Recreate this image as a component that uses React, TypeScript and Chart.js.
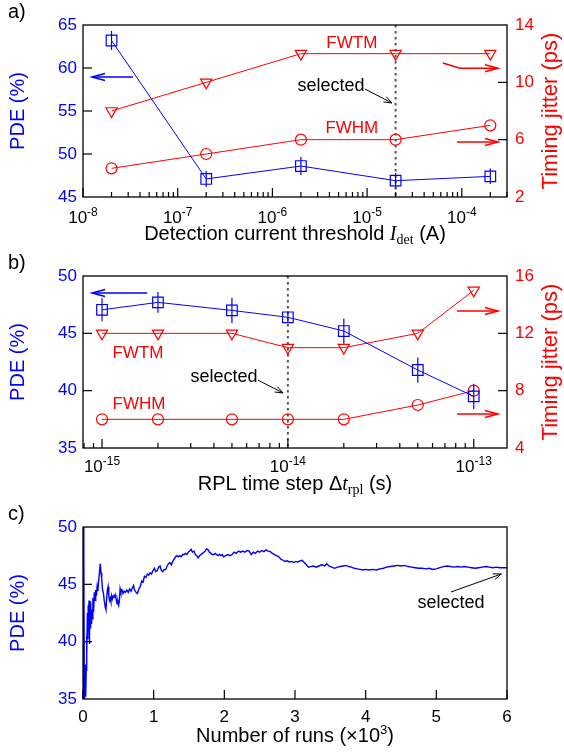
import React, { useEffect, useRef } from "react";
import { Chart, registerables } from "chart.js";
Chart.register(...registerables);

const SANS = '"Liberation Sans", Arial, Helvetica, sans-serif';
const SERIF = '"Liberation Serif", "Times New Roman", serif';
const BLUE = "#0000ff";
const RED = "#ff0000";

// ---------- Panel a data ----------
const detThreshold = [2e-8, 2e-7, 2e-6, 2e-5, 2e-4];
const pdeA = [63.2, 47.1, 48.6, 46.9, 47.4];
const pdeErrA = [1.1, 0.95, 1.05, 0.9, 0.9];
const fwtmA = [8, 10, 12, 12, 12];
const fwhmA = [4, 5, 6, 6, 7];
const pdeTicksA = [45, 50, 55, 60, 65];
const jitterTicksA = [2, 6, 10, 14];
const detTickExp = [-8, -7, -6, -5, -4];

// ---------- Panel b data ----------
const rplStep = [1e-15, 2e-15, 5e-15, 1e-14, 2e-14, 5e-14, 1e-13];
const pdeB = [47.05, 47.7, 47.0, 46.4, 45.2, 41.8, 39.5];
const pdeErrB = [1.0, 0.9, 1.1, 0.5, 1.1, 1.1, 1.1];
const fwtmB = [12, 12, 12, 11, 11, 12, 15];
const fwhmB = [6, 6, 6, 6, 6, 7, 8];
const pdeTicksB = [35, 40, 45, 50];
const jitterTicksB = [4, 8, 12, 16];
const rplTickExp = [-15, -14, -13];

// ---------- Panel c data (runs in thousands) ----------
const runsK = [
  0.003, 0.008, 0.014, 0.02, 0.03, 0.038, 0.045, 0.05, 0.055, 0.062, 0.068, 0.074, 0.08, 0.085, 0.09, 0.095,
  0.1, 0.108, 0.115, 0.122, 0.13, 0.14, 0.15, 0.16, 0.17, 0.18, 0.19, 0.2, 0.21, 0.22, 0.235, 0.245, 0.255,
  0.265, 0.275, 0.29, 0.3, 0.315, 0.325, 0.335, 0.345, 0.355, 0.365, 0.375, 0.385, 0.395, 0.405, 0.415, 0.43,
  0.445, 0.455, 0.465, 0.475, 0.485, 0.495, 0.505, 0.515, 0.525, 0.535, 0.55, 0.565, 0.58, 0.6, 0.62, 0.64,
  0.66, 0.68, 0.7, 0.715, 0.73, 0.75, 0.77, 0.79, 0.81, 0.83, 0.85, 0.87, 0.89, 0.91, 0.93, 0.95, 0.97, 0.99,
  1.01, 1.03, 1.05, 1.07, 1.09, 1.11, 1.13, 1.15, 1.17, 1.19, 1.21, 1.23, 1.25, 1.27, 1.29, 1.31, 1.33, 1.35,
  1.37, 1.39, 1.41, 1.43, 1.45, 1.47, 1.49, 1.51, 1.53, 1.55, 1.57, 1.59, 1.61, 1.63, 1.65, 1.67, 1.69, 1.71,
  1.73, 1.75, 1.77, 1.79, 1.81, 1.83, 1.85, 1.87, 1.89, 1.91, 1.93, 1.95, 1.97, 1.99, 2.02, 2.05, 2.08, 2.11,
  2.14, 2.17, 2.2, 2.23, 2.26, 2.29, 2.32, 2.35, 2.38, 2.41, 2.44, 2.47, 2.5, 2.53, 2.56, 2.59, 2.62, 2.65,
  2.68, 2.71, 2.74, 2.77, 2.8, 2.83, 2.86, 2.89, 2.92, 2.95, 2.98, 3.01, 3.04, 3.07, 3.1, 3.13, 3.16, 3.19,
  3.22, 3.26, 3.3, 3.34, 3.38, 3.42, 3.45, 3.48, 3.52, 3.56, 3.6, 3.64, 3.68, 3.72, 3.76, 3.8, 3.84, 3.88,
  3.92, 3.96, 4.0, 4.05, 4.1, 4.15, 4.2, 4.25, 4.3, 4.35, 4.4, 4.45, 4.5, 4.55, 4.6, 4.65, 4.7, 4.75, 4.8,
  4.85, 4.9, 4.95, 5.0, 5.05, 5.1, 5.15, 5.2, 5.25, 5.3, 5.35, 5.4, 5.45, 5.5, 5.55, 5.6, 5.65, 5.7, 5.75,
  5.8, 5.85, 5.9, 5.95, 6.0,
];
const pdeRuns = [
  60, 30, 48, 34, 38, 35.2, 37.5, 40.5, 38.8, 42.5, 40.2, 43.2, 41.0, 43.6, 39.8, 42.4,
  41.2, 43.5, 41.6, 42.8, 42.0, 43.8, 42.6, 44.3, 43.6, 44.5, 44.0, 44.8, 44.4, 45.2, 46.2, 46.8, 46.0,
  45.5, 44.6, 44.2, 43.6, 43.0, 42.8, 43.8, 44.5, 44.8, 44.0, 43.6, 43.8, 43.5, 44.0, 43.7, 44.0,
  43.9, 44.1, 43.8, 43.6, 43.3, 43.5, 43.2, 43.6, 44.6, 44.3, 44.5, 44.2, 44.4, 44.3, 44.5, 44.3,
  44.6, 44.4, 44.7, 44.9, 44.5, 44.3, 44.2, 44.6, 44.8, 45.3, 45.2, 45.7, 45.6, 45.9, 45.8, 46.0, 45.9, 46.2,
  46.4, 46.1, 46.2, 46.5, 46.6, 46.2, 46.1, 46.3, 46.3, 46.6, 46.8, 46.9, 46.7, 47.0, 47.2, 47.4, 47.5, 47.4,
  47.5, 47.4, 47.6, 47.6, 47.7, 47.6, 47.8, 47.9, 48.05, 47.8, 47.9, 47.6, 47.5, 47.3, 47.5, 47.6, 47.7, 47.8,
  47.9, 48.1, 48.0, 47.8, 47.7, 47.6, 47.6, 47.7, 47.6, 47.5, 47.6, 47.5, 47.6, 47.4, 47.5, 47.6, 47.5, 47.6,
  47.8, 47.7, 47.9, 47.8, 47.9, 47.8, 47.95, 47.9, 47.6, 47.8, 47.7, 47.9, 47.8, 47.95, 47.85, 48.0, 47.9, 47.85,
  47.7, 47.6, 47.5, 47.4, 47.2, 47.1, 47.0, 47.05, 46.95, 47.0, 46.9, 47.0, 46.95, 47.05, 47.1, 46.9, 46.7, 46.5,
  46.55, 46.6, 46.5, 46.6, 46.7, 46.6, 46.8, 46.6, 46.5, 46.4, 46.5, 46.55, 46.6, 46.65, 46.55, 46.5, 46.4, 46.35,
  46.3, 46.25, 46.3, 46.25, 46.3, 46.25, 46.35, 46.4, 46.5, 46.55, 46.6, 46.65, 46.6, 46.65, 46.55, 46.5, 46.45, 46.4, 46.4,
  46.35, 46.4, 46.3, 46.35, 46.45, 46.55, 46.6, 46.55, 46.5, 46.55, 46.5, 46.55, 46.5, 46.45, 46.4, 46.45, 46.5, 46.55, 46.5,
  46.45, 46.5, 46.45, 46.45, 46.45,
];
const pdeTicksC = [35, 40, 45, 50];
const runTicksC = [0, 1, 2, 3, 4, 5, 6];

// ---------- helpers ----------
type Seg = { t: string; font: string; dy?: number };

function drawRich(ctx: CanvasRenderingContext2D, segs: Seg[], x: number, y: number, align: "center" | "left") {
  let total = 0;
  const ws: number[] = [];
  for (const s of segs) {
    ctx.font = s.font;
    const w = ctx.measureText(s.t).width;
    ws.push(w);
    total += w;
  }
  let cx = align === "center" ? x - total / 2 : x;
  ctx.textAlign = "left";
  ctx.textBaseline = "alphabetic";
  segs.forEach((s, i) => {
    ctx.font = s.font;
    ctx.fillText(s.t, cx, y + (s.dy || 0));
    cx += ws[i];
  });
}

function drawArrow(ctx: CanvasRenderingContext2D, pts: number[][], color: string, width: number, head: number, spread: number) {
  ctx.strokeStyle = color;
  ctx.lineWidth = width;
  ctx.setLineDash([]);
  ctx.beginPath();
  ctx.moveTo(pts[0][0], pts[0][1]);
  for (let i = 1; i < pts.length; i++) ctx.lineTo(pts[i][0], pts[i][1]);
  ctx.stroke();
  const [x1, y1] = pts[pts.length - 2];
  const [x2, y2] = pts[pts.length - 1];
  const a = Math.atan2(y2 - y1, x2 - x1);
  const c = Math.cos(a), s = Math.sin(a);
  ctx.beginPath();
  ctx.moveTo(x2 - head * c + spread * s, y2 - head * s - spread * c);
  ctx.lineTo(x2, y2);
  ctx.lineTo(x2 - head * c - spread * s, y2 - head * s + spread * c);
  ctx.stroke();
}

type Ann =
  | { kind: "text"; x: number; y: number; axis: string; text: string; color: string; size: number }
  | { kind: "arrow"; pts: number[][]; axis: string; color: string; width: number; head: number; spread: number };

type Spec = {
  id: string;
  label: string;
  logX: boolean;
  xTickVals: number[];
  xTickText: string[];
  xTickSup: string[];
  xTitle: Seg[];
  yTicks: number[];
  y1Ticks?: number[];
  rightTitle?: string;
  vline?: number;
  pdeX?: number[];
  pdeY?: number[];
  pdeErr?: number[];
  anns: Ann[];
  labelBase: number;
  titleBase: number;
};

function makeDecor(spec: Spec) {
  return {
    id: "decor_" + spec.id,
    beforeDatasetsDraw(chart: any) {
      if (spec.vline === undefined) return;
      const ctx = chart.ctx as CanvasRenderingContext2D;
      const { top, bottom } = chart.chartArea;
      const x = chart.scales.x.getPixelForValue(spec.vline);
      ctx.save();
      ctx.strokeStyle = "#555555";
      ctx.lineWidth = 2;
      ctx.setLineDash([2.5, 3.5]);
      ctx.beginPath();
      ctx.moveTo(x, top);
      ctx.lineTo(x, bottom);
      ctx.stroke();
      ctx.restore();
    },
    afterDatasetsDraw(chart: any) {
      if (!spec.pdeX || !spec.pdeY || !spec.pdeErr) return;
      const ctx = chart.ctx as CanvasRenderingContext2D;
      const xs = chart.scales.x, ys = chart.scales.y;
      ctx.save();
      ctx.strokeStyle = BLUE;
      ctx.lineWidth = 1.2;
      spec.pdeX.forEach((xv, i) => {
        const x = xs.getPixelForValue(xv);
        const yTop = ys.getPixelForValue(spec.pdeY![i] + spec.pdeErr![i]);
        const yBot = ys.getPixelForValue(spec.pdeY![i] - spec.pdeErr![i]);
        ctx.beginPath();
        ctx.moveTo(x, yTop);
        ctx.lineTo(x, yBot);
        ctx.stroke();
      });
      ctx.restore();
    },
    afterDraw(chart: any) {
      const ctx = chart.ctx as CanvasRenderingContext2D;
      const { left, right, top, bottom } = chart.chartArea;
      const xs = chart.scales.x, ys = chart.scales.y, y1 = chart.scales.y1;
      ctx.save();
      ctx.setLineDash([]);
      // frame
      ctx.strokeStyle = "#000";
      ctx.lineWidth = 1.3;
      ctx.strokeRect(left, top, right - left, bottom - top);
      // y ticks (inward)
      ctx.lineWidth = 1.2;
      const yMin = spec.yTicks[0], yMax = spec.yTicks[spec.yTicks.length - 1];
      for (const v of spec.yTicks) {
        if (v === yMin || v === yMax) continue;
        const y = ys.getPixelForValue(v);
        ctx.beginPath();
        ctx.moveTo(left, y);
        ctx.lineTo(left + 9, y);
        ctx.stroke();
      }
      if (spec.y1Ticks && y1) {
        const a = spec.y1Ticks[0], b = spec.y1Ticks[spec.y1Ticks.length - 1];
        for (const v of spec.y1Ticks) {
          if (v === a || v === b) continue;
          const y = y1.getPixelForValue(v);
          ctx.beginPath();
          ctx.moveTo(right, y);
          ctx.lineTo(right - 9, y);
          ctx.stroke();
        }
      }
      // x ticks
      if (spec.logX) {
        const lo = Math.floor(Math.log10(xs.min)), hi = Math.ceil(Math.log10(xs.max));
        for (let k = lo; k <= hi; k++) {
          for (let m = 1; m <= 9; m++) {
            const v = m * Math.pow(10, k);
            if (v < xs.min * 0.999 || v > xs.max * 1.001) continue;
            const x = xs.getPixelForValue(v);
            ctx.beginPath();
            ctx.moveTo(x, bottom);
            ctx.lineTo(x, bottom - (m === 1 ? 9 : 5));
            ctx.stroke();
          }
        }
      } else {
        for (const v of spec.xTickVals) {
          const x = xs.getPixelForValue(v);
          ctx.beginPath();
          ctx.moveTo(x, bottom);
          ctx.lineTo(x, bottom - 9);
          ctx.stroke();
        }
      }
      // x tick labels
      ctx.fillStyle = "#000";
      spec.xTickVals.forEach((v, i) => {
        const x = xs.getPixelForValue(v);
        const segs: Seg[] = [{ t: spec.xTickText[i], font: `17px ${SANS}` }];
        if (spec.xTickSup[i]) segs.push({ t: spec.xTickSup[i], font: `12px ${SANS}`, dy: -7 });
        drawRich(ctx, segs, x, bottom + spec.labelBase, "center");
      });
      // x title
      ctx.fillStyle = "#000";
      drawRich(ctx, spec.xTitle, (left + right) / 2, bottom + spec.titleBase, "center");
      // left title
      ctx.save();
      ctx.fillStyle = BLUE;
      ctx.font = `20px ${SANS}`;
      ctx.textAlign = "center";
      ctx.textBaseline = "alphabetic";
      ctx.translate(24, (top + bottom) / 2);
      ctx.rotate(-Math.PI / 2);
      ctx.fillText("PDE (%)", 0, 0);
      ctx.restore();
      // right title
      if (spec.rightTitle) {
        ctx.save();
        ctx.fillStyle = RED;
        ctx.font = `22px ${SANS}`;
        ctx.textAlign = "center";
        ctx.textBaseline = "alphabetic";
        ctx.translate(557, (top + bottom) / 2);
        ctx.rotate(-Math.PI / 2);
        ctx.fillText(spec.rightTitle, 0, 0);
        ctx.restore();
      }
      // panel label
      ctx.fillStyle = "#000";
      ctx.font = `20px ${SANS}`;
      ctx.textAlign = "left";
      ctx.fillText(spec.label, 8, top - 7);
      // annotations
      for (const a of spec.anns) {
        const sc = chart.scales[a.axis];
        if (a.kind === "text") {
          ctx.fillStyle = a.color;
          ctx.font = `${a.size}px ${SANS}`;
          ctx.textAlign = "center";
          ctx.textBaseline = "middle";
          ctx.fillText(a.text, xs.getPixelForValue(a.x), sc.getPixelForValue(a.y));
        } else {
          const pts = a.pts.map((p) => [xs.getPixelForValue(p[0]), sc.getPixelForValue(p[1])]);
          drawArrow(ctx, pts, a.color, a.width, a.head, a.spread);
        }
      }
      ctx.restore();
    },
  };
}

function yAxis(ticks: number[], color: string, pos: "left" | "right", width: number) {
  return {
    type: "linear",
    position: pos,
    min: ticks[0],
    max: ticks[ticks.length - 1],
    afterBuildTicks: (s: any) => {
      s.ticks = ticks.map((v) => ({ value: v }));
    },
    afterFit: (s: any) => {
      s.width = width;
    },
    ticks: { color, font: { family: SANS, size: 17 }, padding: pos === "left" ? 6 : 8 },
    grid: { display: false, drawTicks: false },
    border: { display: false },
  };
}

function pts(xs: number[], ys: number[]) {
  return xs.map((x, i) => ({ x, y: ys[i] }));
}

function dualConfig(o: {
  x: number[]; pde: number[]; fwtm: number[]; fwhm: number[];
  xMin: number; xMax: number; yTicks: number[]; y1Ticks: number[];
  padTop: number; padBottom: number; spec: Spec;
}) {
  return {
    type: "line",
    data: {
      datasets: [
        {
          label: "PDE", data: pts(o.x, o.pde), yAxisID: "y",
          borderColor: BLUE, borderWidth: 1, pointStyle: "rect", pointRadius: 7.5,
          pointBorderColor: BLUE, pointBackgroundColor: "rgba(0,0,0,0)", pointBorderWidth: 1.2,
        },
        {
          label: "FWTM", data: pts(o.x, o.fwtm), yAxisID: "y1",
          borderColor: RED, borderWidth: 1, pointStyle: "triangle", pointRotation: 180, pointRadius: 6.5,
          pointBorderColor: RED, pointBackgroundColor: "rgba(0,0,0,0)", pointBorderWidth: 1.2,
        },
        {
          label: "FWHM", data: pts(o.x, o.fwhm), yAxisID: "y1",
          borderColor: RED, borderWidth: 1, pointStyle: "circle", pointRadius: 5.5,
          pointBorderColor: RED, pointBackgroundColor: "rgba(0,0,0,0)", pointBorderWidth: 1.2,
        },
      ],
    },
    options: {
      responsive: false, animation: false, devicePixelRatio: 1,
      layout: { padding: { left: 0, right: 0, top: o.padTop, bottom: o.padBottom } },
      plugins: { legend: { display: false }, tooltip: { enabled: false } },
      scales: {
        x: { type: "logarithmic", min: o.xMin, max: o.xMax, display: false },
        y: yAxis(o.yTicks, BLUE, "left", 83),
        y1: yAxis(o.y1Ticks, RED, "right", 57),
      },
    },
    plugins: [makeDecor(o.spec)],
  };
}

const specA: Spec = {
  id: "a", label: "a)", logX: true,
  xTickVals: detTickExp.map((e) => Math.pow(10, e)),
  xTickText: detTickExp.map(() => "10"),
  xTickSup: detTickExp.map((e) => String(e)),
  xTitle: [
    { t: "Detection current threshold ", font: `20px ${SANS}` },
    { t: "I", font: `italic 20px ${SERIF}` },
    { t: "det", font: `14px ${SERIF}`, dy: 4 },
    { t: " (A)", font: `20px ${SANS}` },
  ],
  yTicks: pdeTicksA, y1Ticks: jitterTicksA, rightTitle: "Timing jitter (ps)",
  vline: 2e-5, pdeX: detThreshold, pdeY: pdeA, pdeErr: pdeErrA,
  labelBase: 26, titleBase: 43,
  anns: [
    { kind: "text", x: 6.9e-6, y: 12.74, axis: "y1", text: "FWTM", color: RED, size: 17 },
    { kind: "text", x: 6.9e-6, y: 6.81, axis: "y1", text: "FWHM", color: RED, size: 17 },
    { kind: "text", x: 4.16e-6, y: 9.74, axis: "y1", text: "selected", color: "#000", size: 18 },
    { kind: "arrow", pts: [[9.5e-6, 9.53], [1.83e-5, 8.56]], axis: "y1", color: "#000", width: 1, head: 8, spread: 3 },
    { kind: "arrow", pts: [[3.37e-8, 58.95], [1.245e-8, 58.95]], axis: "y", color: BLUE, width: 1.5, head: 13, spread: 3.5 },
    { kind: "arrow", pts: [[6.3e-5, 11.35], [9.57e-5, 10.98], [2.41e-4, 10.98]], axis: "y1", color: RED, width: 1.5, head: 13, spread: 3.5 },
    { kind: "arrow", pts: [[8.9e-5, 5.84], [2.41e-4, 5.84]], axis: "y1", color: RED, width: 1.5, head: 13, spread: 3.5 },
  ],
};

const specB: Spec = {
  id: "b", label: "b)", logX: true,
  xTickVals: rplTickExp.map((e) => Math.pow(10, e)),
  xTickText: rplTickExp.map(() => "10"),
  xTickSup: rplTickExp.map((e) => String(e)),
  xTitle: [
    { t: "RPL time step \u0394", font: `20px ${SANS}` },
    { t: "t", font: `italic 20px ${SERIF}` },
    { t: "rpl", font: `14px ${SERIF}`, dy: 4 },
    { t: " (s)", font: `20px ${SANS}` },
  ],
  yTicks: pdeTicksB, y1Ticks: jitterTicksB, rightTitle: "Timing jitter (ps)",
  vline: 1e-14, pdeX: rplStep, pdeY: pdeB, pdeErr: pdeErrB,
  labelBase: 24, titleBase: 42,
  anns: [
    { kind: "text", x: 1.56e-15, y: 10.63, axis: "y1", text: "FWTM", color: RED, size: 17 },
    { kind: "text", x: 1.58e-15, y: 7.07, axis: "y1", text: "FWHM", color: RED, size: 17 },
    { kind: "text", x: 4.53e-15, y: 8.95, axis: "y1", text: "selected", color: "#000", size: 18 },
    { kind: "arrow", pts: [[6.9e-15, 8.74], [9.42e-15, 7.84]], axis: "y1", color: "#000", width: 1, head: 8, spread: 3 },
    { kind: "arrow", pts: [[1.75e-15, 48.52], [8.84e-16, 48.52]], axis: "y", color: BLUE, width: 1.5, head: 13, spread: 3.5 },
    { kind: "arrow", pts: [[8.13e-14, 13.56], [1.35e-13, 13.56]], axis: "y1", color: RED, width: 1.5, head: 13, spread: 3.5 },
    { kind: "arrow", pts: [[8.13e-14, 6.37], [1.35e-13, 6.37]], axis: "y1", color: RED, width: 1.5, head: 13, spread: 3.5 },
  ],
};

const specC: Spec = {
  id: "c", label: "c)", logX: false,
  xTickVals: runTicksC,
  xTickText: runTicksC.map((v) => String(v)),
  xTickSup: runTicksC.map(() => ""),
  xTitle: [
    { t: "Number of runs (\u00d710", font: `20px ${SANS}` },
    { t: "3", font: `13px ${SANS}`, dy: -8 },
    { t: ")", font: `20px ${SANS}` },
  ],
  yTicks: pdeTicksC,
  labelBase: 23, titleBase: 43,
  anns: [
    { kind: "text", x: 5.207, y: 43.37, axis: "y", text: "selected", color: "#000", size: 18 },
    { kind: "arrow", pts: [[5.207, 44.33], [5.92, 45.9]], axis: "y", color: "#000", width: 1, head: 8, spread: 3 },
  ],
};

function configA() {
  return dualConfig({
    x: detThreshold, pde: pdeA, fwtm: fwtmA, fwhm: fwhmA,
    xMin: 1e-8, xMax: 3e-4, yTicks: pdeTicksA, y1Ticks: jitterTicksA,
    padTop: 25, padBottom: 53, spec: specA,
  });
}

function configB() {
  return dualConfig({
    x: rplStep, pde: pdeB, fwtm: fwtmB, fwhm: fwhmB,
    xMin: 7.9e-16, xMax: 1.51e-13, yTicks: pdeTicksB, y1Ticks: jitterTicksB,
    padTop: 26, padBottom: 52, spec: specB,
  });
}

function configC() {
  return {
    type: "line",
    data: {
      datasets: [
        {
          label: "PDE", data: pts(runsK, pdeRuns), yAxisID: "y",
          borderColor: BLUE, borderWidth: 1.4, pointRadius: 0, tension: 0,
        },
      ],
    },
    options: {
      responsive: false, animation: false, devicePixelRatio: 1,
      layout: { padding: { left: 0, right: 57, top: 27, bottom: 54 } },
      plugins: { legend: { display: false }, tooltip: { enabled: false } },
      scales: {
        x: { type: "linear", min: runTicksC[0], max: runTicksC[runTicksC.length - 1], display: false },
        y: yAxis(pdeTicksC, BLUE, "left", 83),
      },
    },
    plugins: [makeDecor(specC)],
  };
}

function Panel({ top, height, build }: { top: number; height: number; build: () => any }) {
  const ref = useRef<HTMLCanvasElement>(null);
  useEffect(() => {
    const chart = new Chart(ref.current as HTMLCanvasElement, build());
    return () => chart.destroy();
  }, []);
  return (
    <canvas
      ref={ref}
      width={564}
      height={height}
      style={{ position: "absolute", left: 0, top, width: 564, height, display: "block" }}
    />
  );
}

export default function App() {
  return (
    <div style={{ position: "absolute", left: 0, top: 0, width: 564, height: 753, background: "#fff" }}>
      <Panel top={0} height={250} build={configA} />
      <Panel top={250} height={250} build={configB} />
      <Panel top={500} height={253} build={configC} />
    </div>
  );
}
